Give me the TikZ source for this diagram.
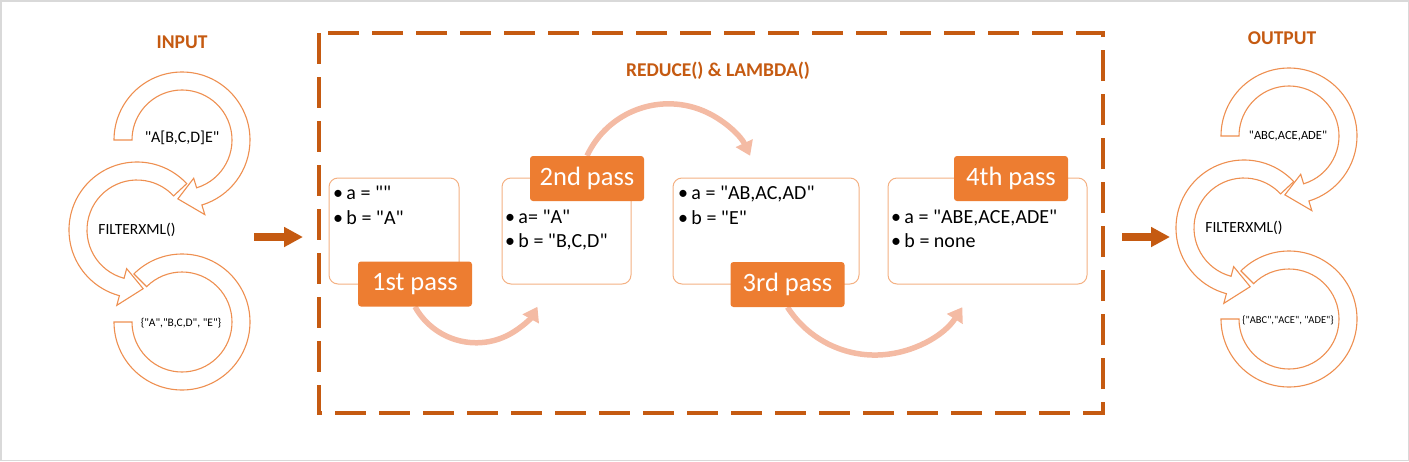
\documentclass[tikz,border=0pt]{standalone}
\usepackage{fontspec}
\setmainfont{Carlito}[Ligatures=TeXOff]
\usetikzlibrary{arrows.meta}
\definecolor{dk}{HTML}{C55A11}
\definecolor{acc}{HTML}{ED7D31}
\definecolor{lt}{HTML}{F4B183}
\definecolor{arcc}{HTML}{F4BBA4}
\definecolor{ringc}{HTML}{EE8F50}
\newcommand{\myringarrow}[5]{%
  \filldraw[ring] ([shift={(#1,#2)}]#3:68) arc[start angle=#3,end angle=#4,radius=68]
    -- ([shift={(#1,#2)}]#4:78) -- ([shift={(#1,#2)}]#5:59) -- ([shift={(#1,#2)}]#4:40)
    -- ([shift={(#1,#2)}]#4:50) arc[start angle=#4,end angle=#3,radius=50] -- cycle;}
\newcommand{\myringplain}[4]{%
  \filldraw[ring] ([shift={(#1,#2)}]#3:68) arc[start angle=#3,end angle=#4,radius=68]
    -- ([shift={(#1,#2)}]#4:50) arc[start angle=#4,end angle=#3,radius=50] -- cycle;}
\tikzset{
  ring/.style={draw=ringc, fill=white, line width=1.1pt},
  ttl/.style={text=dk, font=\bfseries\fontsize{19.5}{22}\selectfont, inner sep=0},
  rtext/.style={text=black, inner sep=0},
  stepbox/.style={draw=lt, fill=white, line width=1pt, rounded corners=9pt, inner sep=0},
  passlbl/.style={fill=acc, text=white, rounded corners=3pt, inner sep=0, minimum width=114pt,
    minimum height=45pt, font=\fontsize{26.5}{30}\selectfont},
  btext/.style={anchor=base west, inner sep=0, font=\fontsize{20}{24}\selectfont},
  curv/.style={draw=arcc, line width=5.5pt, -{Triangle[length=14pt,width=18pt]}},
  bigarr/.style={draw=dk, line width=8pt, -{Triangle[length=19pt,width=19pt]}},
}
\begin{document}
\begin{tikzpicture}[x=1pt,y=1pt]
\useasboundingbox (0,0) rectangle (1409,-461);
\draw[black!15, line width=1.5pt] (0.75,-0.75) rectangle (1408.25,-460.25);

% dashed frame
\draw[dk, line width=4.5pt, dash pattern=on 31pt off 13pt] (319,-33) rectangle (1103,-413);
\node[ttl] (title) at (718,-71) {REDUCE() \& LAMBDA()};
\node[ttl] (inp) at (182,-42) {INPUT};
\node[ttl] (outp) at (1282,-38.5) {OUTPUT};

% input circular arrows
\myringplain{182}{-322}{180}{495}
\myringarrow{137}{-230}{43}{255}{276}
\myringarrow{182}{-140}{180}{-73}{-94}
\node[rtext, font=\fontsize{16}{18}\selectfont] (in1) at (182,-138) {"A[B,C,D]E"};
\node[rtext, font=\fontsize{15.5}{18}\selectfont] (in2) at (137,-230) {FILTERXML()};
\node[rtext, font=\fontsize{11.5}{13}\selectfont] (in3) at (181,-323) {\{"A","B,C,D", "E"\}};

% output circular arrows
\myringplain{1289}{-319}{180}{495}
\myringarrow{1244}{-228}{43}{255}{276}
\myringarrow{1289}{-136}{180}{-73}{-94}
\node[rtext, font=\fontsize{12.5}{14}\selectfont] (out1) at (1288,-136) {"ABC,ACE,ADE"};
\node[rtext, font=\fontsize{15.5}{18}\selectfont] (out2) at (1244,-228) {FILTERXML()};
\node[rtext, font=\fontsize{10.5}{12}\selectfont] (out3) at (1288,-320) {\{"ABC","ACE", "ADE"\}};

% big arrows
\coordinate (ia) at (254,-237);
\coordinate (ib) at (303,-237);
\coordinate (oa) at (1122,-237);
\coordinate (ob) at (1170,-237);
\draw[bigarr] (ia) -- (ib);
\draw[bigarr] (oa) -- (ob);

% step boxes
\node[stepbox, minimum width=130pt, minimum height=106pt] (b1) at (394,-231) {};
\node[stepbox, minimum width=129pt, minimum height=106pt] (b2) at (566.5,-231) {};
\node[stepbox, minimum width=186pt, minimum height=106pt] (b3) at (766,-231) {};
\node[stepbox, minimum width=199pt, minimum height=106pt] (b4) at (987.5,-231) {};

\node[btext] (b1a) at (333,-199) {•\,a = ""};
\node[btext] (b1b) at (333,-224) {•\,b = "A"};
\node[btext] (b2a) at (505,-223) {•\,a= "A"};
\node[btext] (b2b) at (505,-247) {•\,b = "B,C,D"};
\node[btext] (b3a) at (678,-199) {•\,a = "AB,AC,AD"};
\node[btext] (b3b) at (678,-224) {•\,b = "E"};
\node[btext] (b4a) at (891,-223) {•\,a = "ABE,ACE,ADE"};
\node[btext] (b4b) at (891,-247) {•\,b = none};

% pass labels (positions)
\coordinate (l1c) at (415,-284);
\coordinate (l2c) at (587,-178.5);
\coordinate (l3c) at (787.5,-284.5);
\coordinate (l4c) at (1011,-178.5);
\path (l1c) node[passlbl, draw=none, fill=none] (l1) {\phantom{1st pass}};
\path (l2c) node[passlbl, draw=none, fill=none] (l2) {\phantom{2nd pass}};
\path (l3c) node[passlbl, draw=none, fill=none] (l3) {\phantom{3rd pass}};

% curved arrows
\draw[curv] (l1.south) arc[start angle=-151, end angle=-29, radius=70];
\draw[curv] (l2.north) arc[start angle=155, end angle=25, radius=90];
\draw[curv] (l3.south) arc[start angle=-147.4, end angle=-32.6, radius=103.75];

\node[passlbl] (p1) at (l1c) {1st pass};
\node[passlbl] (p2) at (l2c) {2nd pass};
\node[passlbl] (p3) at (l3c) {3rd pass};
\node[passlbl] (p4) at (l4c) {4th pass};
\end{tikzpicture}
\end{document}
